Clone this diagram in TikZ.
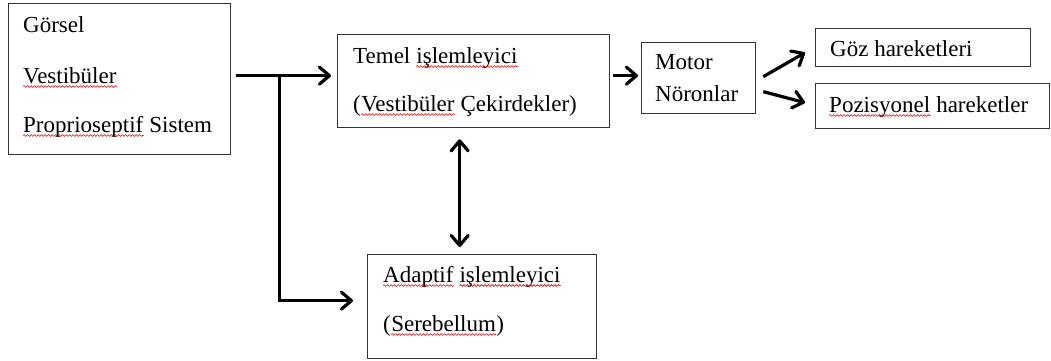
\documentclass[tikz,border=0pt]{standalone}
\usepackage{fontspec}
\setmainfont{Liberation Serif}
\usetikzlibrary{arrows.meta,decorations.pathmorphing}
\tikzset{
  box/.style={draw=black!80, line width=1.3pt, rectangle, inner sep=0pt, anchor=north west, fill=white},
  txt/.style={anchor=base west, inner sep=0pt, font=\fontsize{23}{28}\selectfont},
  nxt/.style={txt, xshift=5.7pt},
  squig/.style={draw=red!85!black, line width=0.6pt, decorate, decoration={snake, amplitude=0.9pt, segment length=3.5pt}},
  tip/.style={Straight Barb[length=10pt,width=17pt,round]},
  arr/.style={line width=3.2pt, -{Straight Barb[length=10pt,width=17pt,round]}},
  darr/.style={line width=3.2pt, {Straight Barb[length=10pt,width=17pt,round]}-{Straight Barb[length=10pt,width=17pt,round]}}
}
\newcommand\wave[1]{\path[squig] ([yshift=-3.5pt]#1.base west) -- ([yshift=-3.5pt]#1.base east);}
\begin{document}
\begin{tikzpicture}[x=1pt,y=-1pt]
\useasboundingbox[fill=white] (0,0) rectangle (1051,360);
% boxes
\node[box, minimum width=222pt, minimum height=151pt] (b1) at (8,3) {};
\node[box, minimum width=272pt, minimum height=93pt] (b2) at (337,34) {};
\node[box, minimum width=114pt, minimum height=71pt] (b3) at (641,42) {};
\node[box, minimum width=215pt, minimum height=38pt] (b4) at (815,28) {};
\node[box, minimum width=234pt, minimum height=45pt] (b6) at (815,83) {};
\node[box, minimum width=229pt, minimum height=104pt] (b5) at (367,254) {};
% texts
\node[txt] (t1a) at (23,32) {Görsel};
\node[txt] (t1b) at (23,83) {Vestibüler};
\node[txt] (t1c) at (23,132) {Proprioseptif};
\node[nxt] (t1d) at (t1c.base east) {Sistem};
\node[txt] (t2a) at (353,63) {Temel};
\node[nxt] (t2b) at (t2a.base east) {işlemleyici};
\node[txt] (t2c) at (353,111) {(};
\node[txt] (t2d) at (t2c.base east) {Vestibüler};
\node[nxt] (t2e) at (t2d.base east) {Çekirdekler)};
\node[txt] (t3a) at (655,69) {Motor};
\node[txt] (t3b) at (655,101) {Nöronlar};
\node[txt] (t4) at (830,56) {Göz hareketleri};
\node[txt] (t6a) at (829,112) {Pozisyonel};
\node[nxt] (t6b) at (t6a.base east) {hareketler};
\node[txt] (t5a) at (383,282) {Adaptif};
\node[nxt] (t5b) at (t5a.base east) {işlemleyici};
\node[txt] (t5c) at (383,331) {(};
\node[txt] (t5d) at (t5c.base east) {Serebellum};
\node[txt] (t5e) at (t5d.base east) {)};
% spelling squiggles
\wave{t1b}\wave{t1c}\wave{t2b}\wave{t2d}\wave{t6a}\wave{t5a}\wave{t5b}\wave{t5d}
% connectors
\coordinate (j) at ([xshift=48pt,yshift=3.5pt]b1.east);
\draw[arr] ([xshift=5pt,yshift=3.5pt]b1.east) -- ([xshift=-6pt,yshift=5.5pt]b2.west);
\draw[arr] (j) |- ([xshift=-14pt,yshift=6pt]b5.west);
\draw[darr] ([xshift=-14pt,yshift=-11pt]b2.south) -- ([xshift=-22.5pt,yshift=7pt]b5.north);
\draw[arr] ([xshift=3pt,yshift=5.5pt]b2.east) -- ([xshift=-3pt,yshift=2.5pt]b3.west);
\draw[arr] ([xshift=7pt,yshift=1.5pt]b3.east) -- ([xshift=-10pt,yshift=-5pt]b4.west);
\draw[arr] ([xshift=7pt,yshift=-13.5pt]b3.east) -- ([xshift=-10pt,yshift=3.5pt]b6.west);
\end{tikzpicture}
\end{document}
